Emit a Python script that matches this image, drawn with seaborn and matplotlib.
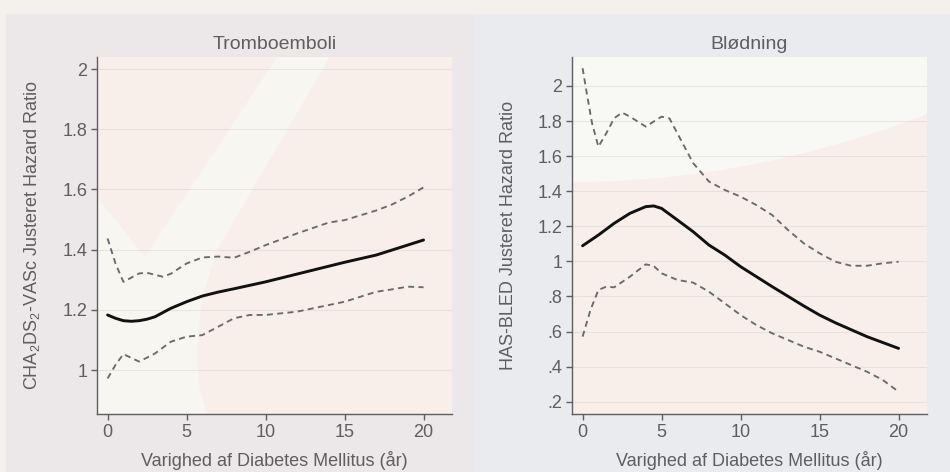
import numpy as np
import pandas as pd
import matplotlib
matplotlib.use("Agg")
import matplotlib.pyplot as plt
from matplotlib.patches import Rectangle, Polygon
import seaborn as sns

# Duration of diabetes (years) and adjusted hazard ratios
trombo_x = [0, 0.5, 1, 1.5, 2, 2.5, 3, 4, 5, 6, 7, 8, 10, 12, 15, 17, 20]
trombo_hr = [1.183, 1.172, 1.164, 1.162, 1.164, 1.169, 1.177, 1.205, 1.227, 1.246,
             1.259, 1.270, 1.293, 1.319, 1.358, 1.382, 1.432]

trombo_up_x = [0, 0.5, 1, 2, 2.5, 3.5, 4, 5, 6, 7, 8, 9, 10, 12, 14, 15, 17, 18, 19, 20]
trombo_up = [1.437, 1.354, 1.293, 1.321, 1.323, 1.310, 1.320, 1.354, 1.374, 1.377,
             1.373, 1.393, 1.415, 1.454, 1.490, 1.498, 1.530, 1.550, 1.576, 1.607]

trombo_lo_x = [0, 0.5, 1, 2, 3, 4, 5, 6, 7, 8, 9, 10, 12, 14, 15, 17, 18, 19, 20]
trombo_lo = [0.972, 1.017, 1.053, 1.028, 1.055, 1.094, 1.111, 1.116, 1.144, 1.172,
             1.183, 1.183, 1.194, 1.216, 1.227, 1.260, 1.268, 1.277, 1.275]

bled_x = [0, 1, 2, 3, 4, 4.5, 5, 6, 7, 8, 9, 10, 12, 14, 15, 16, 18, 20]
bled_hr = [1.089, 1.150, 1.217, 1.274, 1.312, 1.316, 1.302, 1.236, 1.169, 1.093,
           1.036, 0.970, 0.856, 0.746, 0.694, 0.650, 0.571, 0.504]

bled_up_x = [0, 0.3, 0.6, 1, 1.5, 2, 2.5, 3, 4, 4.5, 5, 5.5, 6, 7, 8, 9, 10, 11, 12,
             13, 14, 15, 16, 17, 18, 19, 20]
bled_up = [2.101, 1.940, 1.787, 1.654, 1.730, 1.816, 1.848, 1.825, 1.768, 1.797,
           1.825, 1.815, 1.730, 1.560, 1.455, 1.407, 1.369, 1.321, 1.264, 1.179,
           1.103, 1.046, 0.998, 0.975, 0.975, 0.989, 0.998]

bled_lo_x = [0, 0.5, 1, 1.5, 2, 3, 4, 4.5, 5, 6, 7, 8, 9, 10, 11, 12, 13, 14, 15,
             16, 17, 18, 19, 20]
bled_lo = [0.571, 0.723, 0.837, 0.856, 0.852, 0.913, 0.983, 0.974, 0.932, 0.894,
           0.879, 0.827, 0.761, 0.694, 0.637, 0.590, 0.552, 0.514, 0.485, 0.447,
           0.409, 0.371, 0.324, 0.257]

x_ticks = [0, 5, 10, 15, 20]
trombo_yticks = [1, 1.2, 1.4, 1.6, 1.8, 2]
trombo_ylabels = ["1", "1.2", "1.4", "1.6", "1.8", "2"]
bled_yticks = [0.2, 0.4, 0.6, 0.8, 1, 1.2, 1.4, 1.6, 1.8, 2]
bled_ylabels = [".2", ".4", ".6", ".8", "1", "1.2", "1.4", "1.6", "1.8", "2"]

sns.set_theme(style="ticks")
plt.rcParams["font.family"] = ["Liberation Sans", "DejaVu Sans"]
plt.rcParams["mathtext.fontset"] = "custom"
plt.rcParams["mathtext.rm"] = "Liberation Sans"
plt.rcParams["mathtext.it"] = "Liberation Sans"

W, H = 950, 472
fig = plt.figure(figsize=(W / 100, H / 100), dpi=100, facecolor="#f4f1ed")

def fx(px):
    return px / W

def fy(py):
    return 1 - py / H

# Backdrop behind the panels
fig.patches.append(Rectangle((fx(6), 0), 1, fy(14), transform=fig.transFigure,
                             facecolor="#e9ebee", edgecolor="none", zorder=-5))
fig.patches.append(Polygon([(fx(6), fy(14)), (fx(475), fy(14)), (fx(475), 0), (fx(6), 0)],
                           closed=True, transform=fig.transFigure,
                           facecolor="#ece7e9", edgecolor="none", zorder=-4))

text_col = "#5e5e5e"
spine_col = "#5e5e5e"
pink = "#f8efeb"
cream = "#f7f6f1"

def style_axes(ax, ylim, yticks, ylabels, ylabel, title):
    ax.set_xlim(-0.67, 21.8)
    ax.set_ylim(*ylim)
    ax.set_xticks(x_ticks)
    ax.set_xticklabels([str(t) for t in x_ticks])
    ax.set_yticks(yticks)
    ax.set_yticklabels(ylabels)
    for s in ["top", "right"]:
        ax.spines[s].set_visible(False)
    for s in ["left", "bottom"]:
        ax.spines[s].set_color(spine_col)
        ax.spines[s].set_linewidth(1.0)
    ax.tick_params(axis="both", colors=spine_col, labelcolor=text_col,
                   length=4, width=1, labelsize=13, pad=3)
    for t in yticks:
        ax.axhline(t, color="#d8cfcc", lw=0.8, alpha=0.45, zorder=0.5)
    ax.set_title(title, fontsize=14, color=text_col, pad=6)
    ax.set_xlabel("Varighed af Diabetes Mellitus (år)", fontsize=13, color=text_col)
    ax.set_ylabel(ylabel, fontsize=13, color=text_col)
    ax.xaxis.set_label_coords(0.5, -0.105)
    ax.yaxis.set_label_coords(-0.155, 0.5)

def draw_series(ax, xs, ys, solid):
    df = pd.DataFrame({"x": xs, "y": ys})
    if solid:
        sns.lineplot(data=df, x="x", y="y", ax=ax, color="#111111", lw=2.1,
                     estimator=None, sort=False, zorder=3)
    else:
        sns.lineplot(data=df, x="x", y="y", ax=ax, color="#6a6a6a", lw=1.35,
                     estimator=None, sort=False, dashes=False, zorder=3,
                     linestyle=(0, (3.2, 2.3)))

# Left panel
ax1 = fig.add_axes([fx(97), fy(414), fx(355), 357 / H])
ax1.set_facecolor(cream)
ax1.add_patch(Polygon([(0, 1), (0.507, 1), (0.135, 0.44), (0, 0.608)],
                      closed=True, transform=ax1.transAxes,
                      facecolor=pink, edgecolor="none", zorder=0.2))
ax1.add_patch(Polygon([(0.656, 1), (1, 1), (1, 0), (0.31, 0), (0.288, 0.08),
                       (0.282, 0.18), (0.295, 0.32), (0.338, 0.459)],
                      closed=True, transform=ax1.transAxes,
                      facecolor=pink, edgecolor="none", zorder=0.2))
draw_series(ax1, trombo_up_x, trombo_up, False)
draw_series(ax1, trombo_lo_x, trombo_lo, False)
draw_series(ax1, trombo_x, trombo_hr, True)
style_axes(ax1, (0.854, 2.04), trombo_yticks, trombo_ylabels,
           "CHA$_2$DS$_2$-VASc Justeret Hazard Ratio", "Tromboemboli")

# Right panel
ax2 = fig.add_axes([fx(572), fy(414), fx(355), 357 / H])
ax2.set_facecolor(pink)
cx = np.linspace(0, 1, 60)
cy = 0.65 + 0.19 * cx ** 2
ax2.add_patch(Polygon(list(zip(cx, cy)) + [(1, 1), (0, 1)], closed=True,
                      transform=ax2.transAxes, facecolor="#f8f8f4",
                      edgecolor="none", zorder=0.2))
draw_series(ax2, bled_up_x, bled_up, False)
draw_series(ax2, bled_lo_x, bled_lo, False)
draw_series(ax2, bled_x, bled_hr, True)
style_axes(ax2, (0.13, 2.165), bled_yticks, bled_ylabels,
           "HAS-BLED Justeret Hazard Ratio", "Blødning")

fig.savefig("out.png", dpi=100, facecolor=fig.get_facecolor())
